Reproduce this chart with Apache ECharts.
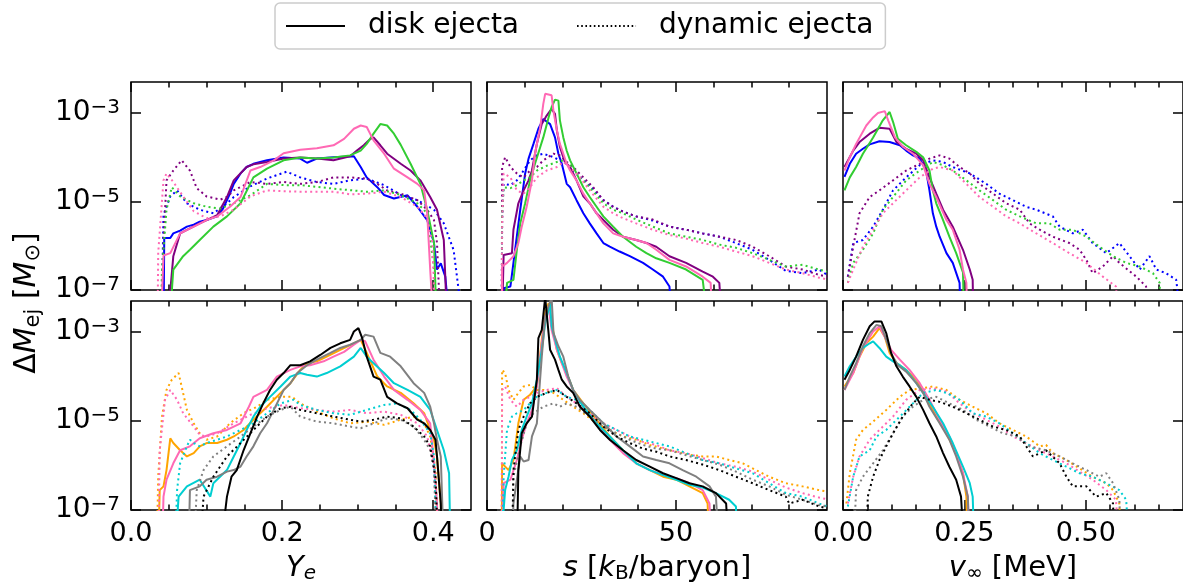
<!DOCTYPE html>
<html><head><meta charset="utf-8">
<script src="https://cdn.jsdelivr.net/npm/echarts@6/dist/echarts.min.js"></script>
<style>html,body{margin:0;padding:0;background:#fff}#c{width:1183px;height:586px}</style>
</head><body><div id="c"></div><script>
// ---------- tick values ----------
const yeMajorTicks = [0, 0.2, 0.4];
const yeMinorTicks = [0.05, 0.1, 0.15, 0.25, 0.3, 0.35];
const sMajorTicks = [0, 50];
const sMinorTicks = [10, 20, 30, 40, 60, 70, 80];
const vMajorTicks = [0, 0.25, 0.5];
const vMinorTicks = [0.05, 0.1, 0.15, 0.2, 0.3, 0.35, 0.4, 0.45, 0.55, 0.6, 0.65];
const yTicks = [1e-7, 1e-5, 1e-3];

// ---------- top row : Ye ----------
const yeTopBlueDisk = [[0.043,1e-8],[0.044,1.5e-6],[0.052,1.5e-6],[0.056,1.9e-6],[0.065,2.2e-6],[0.074,2.7e-6],[0.083,3.0e-6],[0.091,3.5e-6],[0.1,3.8e-6],[0.114,4.6e-6],[0.122,7e-6],[0.131,1.5e-5],[0.136,2.5e-5],[0.145,4.3e-5],[0.153,6e-5],[0.162,7.1e-5],[0.18,8.5e-5],[0.202,9.8e-5],[0.224,9.3e-5],[0.233,7.5e-5],[0.246,9.3e-5],[0.268,1.0e-4],[0.295,1.05e-4],[0.304,6e-5],[0.312,3.5e-5],[0.326,2.1e-5],[0.335,1.4e-5],[0.348,1.17e-5],[0.366,1.38e-5],[0.379,7.6e-6],[0.392,3.8e-6],[0.401,1.15e-6],[0.405,2.9e-7],[0.41,4e-7],[0.416,2e-7],[0.423,1e-8]];
const yeTopBlueDyn = [[0.04,1e-8],[0.043,5e-6],[0.052,1.3e-5],[0.061,1.78e-5],[0.074,9.1e-6],[0.091,6.5e-6],[0.109,5.4e-6],[0.127,9.1e-6],[0.136,1.26e-5],[0.158,2.2e-5],[0.18,3.3e-5],[0.206,4.7e-5],[0.224,3.5e-5],[0.246,2.75e-5],[0.268,2.5e-5],[0.29,3e-5],[0.312,3.3e-5],[0.335,2.34e-5],[0.357,1.4e-5],[0.379,1.07e-5],[0.401,6.5e-6],[0.414,3.2e-6],[0.427,8e-7],[0.441,1e-8]];
const yeTopPurpleDisk = [[0.047,1e-8],[0.056,5.8e-7],[0.065,1.9e-6],[0.091,3.2e-6],[0.114,4.9e-6],[0.127,1.26e-5],[0.136,3e-5],[0.153,6e-5],[0.162,6.9e-5],[0.18,7.8e-5],[0.202,9.3e-5],[0.224,9.8e-5],[0.246,9.3e-5],[0.268,8.5e-5],[0.29,1.05e-4],[0.299,1.41e-4],[0.308,1.86e-4],[0.317,2.6e-4],[0.321,2.8e-4],[0.33,1.86e-4],[0.339,1.2e-4],[0.357,7.1e-5],[0.37,5e-5],[0.383,3e-5],[0.396,1.26e-5],[0.405,6.5e-6],[0.414,1.35e-6],[0.419,1e-8]];
const yeTopPurpleDyn = [[0.04,1e-8],[0.043,1.15e-6],[0.047,3e-5],[0.056,5e-5],[0.067,8.5e-5],[0.078,5e-5],[0.087,2e-5],[0.1,1.3e-5],[0.118,1.1e-5],[0.127,1.26e-5],[0.136,1.78e-5],[0.158,2.75e-5],[0.18,2.5e-5],[0.202,2.75e-5],[0.224,2.5e-5],[0.246,2.75e-5],[0.268,3.5e-5],[0.29,3.5e-5],[0.312,3.3e-5],[0.326,2.5e-5],[0.339,1.78e-5],[0.357,1.5e-5],[0.379,1.07e-5],[0.392,6.5e-6],[0.401,3.8e-6],[0.405,1.15e-6],[0.41,1e-8]];
const yeTopGreenDisk = [[0.05,1e-8],[0.056,2.9e-7],[0.069,5.8e-7],[0.078,8.1e-7],[0.091,1.35e-6],[0.109,2.7e-6],[0.127,4.6e-6],[0.145,9.1e-6],[0.162,3.5e-5],[0.18,5.5e-5],[0.202,8.5e-5],[0.224,9.8e-5],[0.246,9.3e-5],[0.268,9.8e-5],[0.29,1.1e-4],[0.304,1.41e-4],[0.312,2.0e-4],[0.321,3.4e-4],[0.33,5.6e-4],[0.339,5.2e-4],[0.348,3.4e-4],[0.357,1.9e-4],[0.37,7.1e-5],[0.383,2.5e-5],[0.392,6.5e-6],[0.401,1.15e-6],[0.405,1e-8]];
const yeTopGreenDyn = [[0.039,1e-8],[0.041,2.9e-7],[0.047,6.5e-6],[0.054,2.1e-5],[0.065,1.3e-5],[0.083,9.1e-6],[0.1,7.6e-6],[0.118,6.9e-6],[0.136,9.1e-6],[0.158,1.38e-5],[0.18,2.5e-5],[0.202,2.34e-5],[0.224,2.34e-5],[0.246,2.14e-5],[0.268,1.95e-5],[0.29,1.8e-5],[0.312,1.66e-5],[0.335,1.78e-5],[0.357,1.4e-5],[0.379,9.1e-6],[0.392,5.4e-6],[0.401,2.9e-7],[0.405,1e-8]];
const yeTopPinkDisk = [[0.039,1e-8],[0.043,6e-7],[0.052,6.8e-7],[0.065,1.9e-6],[0.083,2.7e-6],[0.1,3.8e-6],[0.114,4.6e-6],[0.131,7.6e-6],[0.145,1.26e-5],[0.158,5e-5],[0.171,6e-5],[0.189,8.5e-5],[0.202,1.23e-4],[0.224,1.48e-4],[0.246,1.6e-4],[0.268,1.86e-4],[0.282,2.6e-4],[0.295,4.4e-4],[0.304,5.2e-4],[0.312,4.8e-4],[0.321,2.4e-4],[0.335,1.2e-4],[0.348,5.5e-5],[0.366,3.5e-5],[0.379,2.5e-5],[0.388,1.78e-5],[0.392,5.4e-6],[0.396,2.9e-7],[0.401,1e-8]];
const yeTopPinkDyn = [[0.035,1e-8],[0.036,6.8e-7],[0.043,3e-5],[0.047,4.3e-5],[0.056,2.75e-5],[0.069,1.3e-5],[0.083,6e-6],[0.1,4.2e-6],[0.118,4.6e-6],[0.136,6.5e-6],[0.158,1.3e-5],[0.18,1.78e-5],[0.202,1.7e-5],[0.224,1.66e-5],[0.246,1.66e-5],[0.268,1.66e-5],[0.29,1.45e-5],[0.312,1.5e-5],[0.335,1.66e-5],[0.357,1.26e-5],[0.379,7.6e-6],[0.392,4.2e-6],[0.399,1.15e-6],[0.403,1e-8]];

// ---------- top row : s ----------
const sTopBlueDisk = [[3.9,1e-8],[4.4,1.1e-7],[6.2,1.2e-7],[7,4.1e-7],[8.8,6.5e-6],[10.1,4.3e-5],[11,9.3e-5],[12.3,2e-4],[13.6,4.4e-4],[14.9,7.3e-4],[16.7,5.6e-4],[18,2.8e-4],[18.9,1.2e-4],[19.8,7.1e-5],[21.1,2.5e-5],[22,2.1e-5],[23.7,1.07e-5],[25.5,5.4e-6],[27.2,3.2e-6],[29,1.9e-6],[30.8,1.15e-6],[32.5,9.5e-7],[35.1,7.4e-7],[37.8,5.8e-7],[41.3,4.1e-7],[43.9,2.9e-7],[46.6,2e-7],[48.3,1.2e-7],[49.2,1e-8]];
const sTopBlueDyn = [[3.9,1e-8],[4,3.9e-6],[4.4,2.5e-5],[6.2,2.34e-5],[7.9,3e-5],[9.7,5e-5],[11.4,8.5e-5],[13.2,1.1e-4],[14.9,1.2e-4],[17.6,1e-4],[19.3,8.5e-5],[21.1,7.1e-5],[22.8,5e-5],[25.5,3e-5],[28.1,1.9e-5],[30.8,1.07e-5],[33.4,7.6e-6],[36,5.9e-6],[39.5,4.6e-6],[43.9,3.7e-6],[48.3,2.7e-6],[52.7,2.3e-6],[57.1,1.9e-6],[61.5,1.6e-6],[65.9,1.15e-6],[70.3,8.1e-7],[74.7,4.8e-7],[79.1,2.7e-7],[83.5,2.4e-7],[87.9,2.9e-7],[90,2.2e-7]];
const sTopPurpleDisk = [[3.9,1e-8],[4.4,6.2e-7],[6.6,6.8e-7],[7,2.3e-6],[8.3,9.1e-6],[9.7,1.78e-5],[11,3e-5],[11.9,5e-5],[13.2,2e-4],[14.5,5.6e-4],[15.8,8.7e-4],[17.1,1.23e-3],[18,9.5e-4],[18.5,4e-4],[19.3,1.7e-4],[20.6,7.8e-5],[22,6e-5],[23.7,3e-5],[25.5,1.3e-5],[27.2,9.1e-6],[29,5.4e-6],[30.8,3.8e-6],[33.4,2.3e-6],[36,1.6e-6],[39.5,1.35e-6],[42.2,1.15e-6],[44.8,9.5e-7],[48.3,5.8e-7],[52.7,4.1e-7],[57.1,2.6e-7],[59.8,2e-7],[61.5,1.45e-7],[62.4,1e-8]];
const sTopPurpleDyn = [[3.9,1e-8],[4,6e-5],[4.8,1e-4],[6.2,6e-5],[7.9,4.3e-5],[9.7,3.5e-5],[11.4,5e-5],[13.2,6e-5],[14.9,8.5e-5],[17.6,1.2e-4],[19.3,1.1e-4],[21.1,7.8e-5],[22.8,6e-5],[25.5,3.5e-5],[28.1,2.1e-5],[30.8,1.07e-5],[33.4,7.6e-6],[36,5.9e-6],[39.5,4.6e-6],[43.9,3.9e-6],[48.3,2.7e-6],[52.7,2.3e-6],[57.1,1.9e-6],[61.5,1.6e-6],[65.9,1.35e-6],[70.3,9.5e-7],[74.7,5.8e-7],[79.1,3.4e-7],[83.5,2.9e-7],[87.9,2.2e-7],[90,2e-7]];
const sTopGreenDisk = [[4.4,1e-8],[5.3,1.45e-7],[7,1.7e-7],[7.9,8.1e-7],[8.8,3.2e-6],[10.1,9.1e-6],[11.4,3e-5],[12.7,7.1e-5],[14.1,1.7e-4],[14.9,2.8e-4],[16.3,7.9e-4],[17.1,1.35e-3],[18,2.0e-3],[18.9,1.9e-3],[19.3,6.8e-4],[20.2,2.8e-4],[21.1,1.4e-4],[22,8.5e-5],[23.7,4.3e-5],[25.5,2.1e-5],[27.2,1.26e-5],[29,7.6e-6],[30.8,4.6e-6],[33.4,2.7e-6],[36,1.6e-6],[39.5,9.5e-7],[42.2,6.8e-7],[44.8,5.2e-7],[48.3,4.1e-7],[52.7,2.9e-7],[57.1,1.7e-7],[58.8,1e-8]];
const sTopGreenDyn = [[3.9,1e-8],[4,4.6e-6],[4.4,2.1e-5],[6.2,2e-5],[7.9,2.34e-5],[9.7,3e-5],[11.4,3.5e-5],[13.2,5e-5],[15.8,6.4e-5],[18.5,7.8e-5],[20.2,8.5e-5],[22,6.5e-5],[24.6,3.5e-5],[27.2,2.1e-5],[30.8,9.1e-6],[33.4,6.5e-6],[36,5.4e-6],[39.5,3.9e-6],[43.9,2.7e-6],[48.3,1.9e-6],[52.7,1.6e-6],[57.1,1.35e-6],[61.5,1.06e-6],[65.9,9e-7],[70.3,6.8e-7],[74.7,4.8e-7],[79.1,3.4e-7],[83.5,3.7e-7],[87.9,2.9e-7],[90,2.6e-7]];
const sTopPinkDisk = [[3.9,1e-8],[4,3.4e-7],[5.3,4.1e-7],[7,5.8e-7],[8.3,1.15e-6],[9.2,2.7e-6],[10.5,7.6e-6],[11.9,3e-5],[12.7,1.2e-4],[14.1,4.8e-4],[14.9,1.6e-3],[15.4,2.7e-3],[17.1,2.5e-3],[17.6,1.1e-3],[18.5,4e-4],[19.3,2e-4],[20.2,1.2e-4],[21.1,7.1e-5],[22,5e-5],[23.7,3e-5],[25.5,1.5e-5],[27.2,9.1e-6],[29,5.4e-6],[30.8,3.2e-6],[33.4,1.9e-6],[36,1.6e-6],[39.5,1.35e-6],[42.2,1.15e-6],[44.8,8.1e-7],[48.3,4.8e-7],[52.7,3.4e-7],[57.1,2e-7],[59.2,1.45e-7],[59.8,1e-8]];
const sTopPinkDyn = [[3.9,1e-8],[4,2.7e-6],[4.4,4.3e-5],[6.2,3.5e-5],[7.9,1.78e-5],[9.7,1.5e-5],[11.4,2.1e-5],[13.2,3.5e-5],[15.8,5e-5],[18.5,6e-5],[20.2,7.8e-5],[22,6e-5],[24.6,3.5e-5],[27.2,1.78e-5],[30.8,7.6e-6],[33.4,5.4e-6],[36,4.2e-6],[39.5,3.2e-6],[43.9,2.3e-6],[48.3,1.75e-6],[52.7,1.45e-6],[57.1,1.15e-6],[61.5,9.5e-7],[65.9,7.4e-7],[70.3,5.8e-7],[74.7,4.1e-7],[79.1,2.9e-7],[83.5,2.4e-7],[87.9,1.9e-7],[90,1.75e-7]];

// ---------- top row : v_inf ----------
const vTopBlueDisk = [[0.003,3.6e-5],[0.014,7.1e-5],[0.027,1.2e-4],[0.041,1.55e-4],[0.055,1.95e-4],[0.075,2.3e-4],[0.096,2.2e-4],[0.117,1.86e-4],[0.13,1.41e-4],[0.144,1.1e-4],[0.158,9.3e-5],[0.171,5e-5],[0.178,1.78e-5],[0.185,5.4e-6],[0.192,2.7e-6],[0.199,1.6e-6],[0.213,6.8e-7],[0.226,4.1e-7],[0.24,1.45e-7],[0.243,1e-8]];
const vTopBlueDyn = [[0.01,2e-7],[0.021,1.15e-6],[0.041,1.35e-6],[0.062,2.7e-6],[0.082,6.5e-6],[0.103,1.78e-5],[0.13,3.5e-5],[0.158,6.6e-5],[0.185,8.5e-5],[0.206,7.8e-5],[0.226,6e-5],[0.261,4.3e-5],[0.295,2.5e-5],[0.322,1.5e-5],[0.35,1.07e-5],[0.377,7.6e-6],[0.398,6.5e-6],[0.432,4.6e-6],[0.446,2.7e-6],[0.473,1.9e-6],[0.494,2.3e-6],[0.514,1.15e-6],[0.542,6.8e-7],[0.569,1.15e-6],[0.59,5.8e-7],[0.611,2.9e-7],[0.631,5.8e-7],[0.645,2.9e-7],[0.665,2.4e-7],[0.686,1.7e-7],[0.699,1e-8]];
const vTopPurpleDisk = [[0.003,6e-5],[0.021,1.41e-4],[0.034,2.2e-4],[0.055,3.4e-4],[0.075,4.6e-4],[0.096,4.4e-4],[0.11,2.2e-4],[0.13,1.55e-4],[0.151,1.2e-4],[0.165,8.5e-5],[0.178,3.5e-5],[0.192,1.5e-5],[0.206,6.5e-6],[0.226,2.7e-6],[0.247,8.1e-7],[0.261,2.9e-7],[0.267,1.7e-7],[0.269,1e-8]];
const vTopPurpleDyn = [[0.01,2e-7],[0.021,9.5e-7],[0.034,5.4e-6],[0.055,1.26e-5],[0.075,1.78e-5],[0.103,3e-5],[0.13,5e-5],[0.158,7.1e-5],[0.178,9.3e-5],[0.199,1.1e-4],[0.219,9.3e-5],[0.24,6e-5],[0.261,4.3e-5],[0.281,2.5e-5],[0.309,1.5e-5],[0.336,9.1e-6],[0.364,6.5e-6],[0.384,3.2e-6],[0.405,2.3e-6],[0.432,1.6e-6],[0.466,1.15e-6],[0.487,8.1e-7],[0.501,4.8e-7],[0.514,2.4e-7],[0.535,3.4e-7],[0.556,5.8e-7],[0.569,4.1e-7],[0.604,2e-7],[0.624,1.2e-7],[0.631,1e-8]];
const vTopGreenDisk = [[0.003,1.78e-5],[0.014,3.5e-5],[0.027,6e-5],[0.041,1.2e-4],[0.062,2.8e-4],[0.082,6.8e-4],[0.096,1.05e-3],[0.103,6.3e-4],[0.113,2.6e-4],[0.13,1.86e-4],[0.151,1.32e-4],[0.165,1.0e-4],[0.178,5e-5],[0.185,1.78e-5],[0.192,9.1e-6],[0.206,3.8e-6],[0.219,1.6e-6],[0.233,6.8e-7],[0.247,2.5e-7],[0.25,1e-8]];
const vTopGreenDyn = [[0.01,1.45e-7],[0.021,4.1e-7],[0.041,8.1e-7],[0.062,1.9e-6],[0.082,6.5e-6],[0.103,1.26e-5],[0.13,3e-5],[0.158,5e-5],[0.185,7.8e-5],[0.206,6.6e-5],[0.226,5e-5],[0.254,3e-5],[0.281,1.78e-5],[0.309,1.07e-5],[0.336,6.5e-6],[0.364,4.6e-6],[0.398,3.2e-6],[0.425,3.2e-6],[0.446,2.3e-6],[0.473,2.3e-6],[0.501,1.6e-6],[0.528,9.5e-7],[0.556,5.8e-7],[0.583,4.1e-7],[0.611,3.4e-7],[0.638,2.4e-7],[0.652,1.45e-7],[0.655,1e-8]];
const vTopPinkDisk = [[0.003,5e-5],[0.014,1e-4],[0.027,2e-4],[0.048,5.2e-4],[0.062,7.9e-4],[0.072,1.0e-3],[0.086,1.1e-3],[0.093,6.8e-4],[0.107,2.8e-4],[0.124,1.7e-4],[0.144,1.2e-4],[0.165,6.6e-5],[0.178,2.5e-5],[0.192,1.26e-5],[0.213,3.8e-6],[0.226,2.3e-6],[0.24,8.1e-7],[0.247,2.9e-7],[0.254,1.45e-7],[0.257,1e-8]];
const vTopPinkDyn = [[0.01,1.45e-7],[0.021,2.9e-7],[0.041,9.5e-7],[0.062,2.3e-6],[0.082,5.4e-6],[0.103,9.1e-6],[0.13,1.78e-5],[0.158,3.5e-5],[0.185,5.5e-5],[0.199,6e-5],[0.226,5e-5],[0.254,2.5e-5],[0.281,1.26e-5],[0.309,7.6e-6],[0.336,4.6e-6],[0.364,3.2e-6],[0.398,1.9e-6],[0.432,1.15e-6],[0.466,6.8e-7],[0.501,4.1e-7],[0.535,2e-7],[0.562,1.2e-7],[0.569,1e-8]];

// ---------- bottom row : Ye ----------
const yeBotOrangeDisk = [[0.036,1e-8],[0.038,2.8e-7],[0.043,3.4e-7],[0.047,7.9e-7],[0.052,4.1e-6],[0.056,3.2e-6],[0.065,2.2e-6],[0.074,1.6e-6],[0.083,1.9e-6],[0.091,2.7e-6],[0.1,3.2e-6],[0.114,3.2e-6],[0.127,3.8e-6],[0.136,4.5e-6],[0.149,6.3e-6],[0.162,1.07e-5],[0.18,2.1e-5],[0.198,4.3e-5],[0.211,7.1e-5],[0.224,1.41e-4],[0.233,2e-4],[0.246,2.2e-4],[0.259,2.8e-4],[0.277,4e-4],[0.295,5.6e-4],[0.304,6.7e-4],[0.312,3.4e-4],[0.326,1e-4],[0.339,6e-5],[0.357,4.3e-5],[0.374,2.5e-5],[0.388,1.5e-5],[0.396,6.3e-6],[0.401,3.8e-6],[0.405,1.6e-6],[0.41,1.4e-7],[0.412,1e-8]];
const yeBotOrangeDyn = [[0.034,1e-8],[0.036,5.6e-7],[0.041,1.26e-5],[0.047,5e-5],[0.054,8.5e-5],[0.063,1.2e-4],[0.067,6e-5],[0.074,1.78e-5],[0.083,8.9e-6],[0.091,5.3e-6],[0.1,3.8e-6],[0.114,4.5e-6],[0.131,8.9e-6],[0.149,1.5e-5],[0.167,2.1e-5],[0.18,3e-5],[0.198,3.5e-5],[0.213,3.5e-5],[0.224,2.5e-5],[0.246,1.63e-5],[0.268,1.15e-5],[0.29,8.9e-6],[0.312,9.7e-6],[0.335,8.2e-6],[0.357,1.07e-5],[0.374,1.26e-5],[0.388,8.9e-6],[0.396,4.5e-6],[0.403,7.9e-7],[0.407,1e-8]];
const yeBotPinkDisk = [[0.041,1e-8],[0.043,2e-7],[0.047,4.8e-7],[0.056,1.12e-6],[0.065,2.2e-6],[0.078,2.7e-6],[0.091,4.1e-6],[0.109,5.3e-6],[0.127,6.3e-6],[0.145,8.9e-6],[0.156,2.1e-5],[0.162,3.5e-5],[0.18,5e-5],[0.193,1e-4],[0.211,1.41e-4],[0.224,1.7e-4],[0.237,1.8e-4],[0.255,2.2e-4],[0.268,2.8e-4],[0.282,3.6e-4],[0.295,5.2e-4],[0.304,6.7e-4],[0.31,6.2e-4],[0.321,2.4e-4],[0.335,1e-4],[0.348,5e-5],[0.366,3e-5],[0.383,1.78e-5],[0.396,8.9e-6],[0.401,1.12e-6],[0.405,1.4e-7],[0.407,1e-8]];
const yeBotPinkDyn = [[0.036,1e-8],[0.038,2.2e-6],[0.045,3e-5],[0.052,5e-5],[0.061,3e-5],[0.069,1.5e-5],[0.083,7.5e-6],[0.091,4.9e-6],[0.1,4.5e-6],[0.114,5.3e-6],[0.136,8.9e-6],[0.158,1.38e-5],[0.18,1.94e-5],[0.202,2.3e-5],[0.224,1.94e-5],[0.246,1.78e-5],[0.268,1.63e-5],[0.29,1.78e-5],[0.312,1.5e-5],[0.335,1.63e-5],[0.357,1.38e-5],[0.379,8.9e-6],[0.392,4.5e-6],[0.401,9.4e-7],[0.405,1e-8]];
const yeBotCyanDisk = [[0.058,1e-8],[0.063,2e-7],[0.074,3.4e-7],[0.091,4.8e-7],[0.105,2e-7],[0.109,4e-7],[0.127,7.9e-7],[0.136,1.6e-6],[0.145,3.2e-6],[0.153,6.3e-6],[0.162,1.26e-5],[0.171,2.1e-5],[0.184,3.5e-5],[0.198,6e-5],[0.211,1e-4],[0.224,1.2e-4],[0.233,1.1e-4],[0.246,1e-4],[0.259,1.2e-4],[0.277,1.7e-4],[0.295,2.8e-4],[0.304,4.4e-4],[0.312,2.8e-4],[0.321,2e-4],[0.335,1.2e-4],[0.348,7.1e-5],[0.366,5e-5],[0.383,3.5e-5],[0.396,1.78e-5],[0.405,6.3e-6],[0.414,2.2e-6],[0.421,6.7e-7],[0.423,1e-8]];
const yeBotCyanDyn = [[0.058,1e-8],[0.061,2.8e-7],[0.065,1.12e-6],[0.074,2.7e-6],[0.078,3.8e-6],[0.083,3.2e-6],[0.091,2.7e-6],[0.1,3.2e-6],[0.114,3.8e-6],[0.127,4.5e-6],[0.145,6.3e-6],[0.162,8.9e-6],[0.18,1.5e-5],[0.198,2.5e-5],[0.215,3e-5],[0.224,2.3e-5],[0.246,1.78e-5],[0.268,1.5e-5],[0.29,1.38e-5],[0.312,1.78e-5],[0.335,2.3e-5],[0.352,2.5e-5],[0.37,1.78e-5],[0.383,1.07e-5],[0.396,5.3e-6],[0.401,1.6e-6],[0.405,1e-8]];
const yeBotGrayDisk = [[0.076,1e-8],[0.078,2.8e-7],[0.091,3.4e-7],[0.1,4.8e-7],[0.114,5.6e-7],[0.127,7.3e-7],[0.136,7.9e-7],[0.145,9.5e-7],[0.153,1.6e-6],[0.162,2.7e-6],[0.171,5.3e-6],[0.18,8.9e-6],[0.189,1.78e-5],[0.202,5e-5],[0.211,7.1e-5],[0.22,1.2e-4],[0.233,1.8e-4],[0.246,2.4e-4],[0.264,3.4e-4],[0.277,4.4e-4],[0.29,5.2e-4],[0.304,6.7e-4],[0.31,8.7e-4],[0.321,7.9e-4],[0.33,3.4e-4],[0.343,2.8e-4],[0.357,1.7e-4],[0.374,7.1e-5],[0.388,4.3e-5],[0.396,2.1e-5],[0.401,8.9e-6],[0.405,3.8e-6],[0.41,1.6e-6],[0.412,1.4e-7],[0.414,1e-8]];
const yeBotGrayDyn = [[0.083,1e-8],[0.087,2.8e-7],[0.096,7.9e-7],[0.109,1.6e-6],[0.127,2.7e-6],[0.145,4.5e-6],[0.162,7.5e-6],[0.18,1.26e-5],[0.198,1.78e-5],[0.211,2.1e-5],[0.224,1.26e-5],[0.246,9.7e-6],[0.268,8.9e-6],[0.29,7.5e-6],[0.304,6.9e-6],[0.321,8.9e-6],[0.339,1.15e-5],[0.357,1.07e-5],[0.374,7.5e-6],[0.388,3.8e-6],[0.396,2.2e-6],[0.401,7.9e-7],[0.405,1e-8]];
const yeBotBlackDisk = [[0.118,1e-8],[0.127,2e-7],[0.133,5.6e-7],[0.14,7.9e-7],[0.149,2.2e-6],[0.158,5.3e-6],[0.167,1.26e-5],[0.175,2.5e-5],[0.184,5e-5],[0.193,8.5e-5],[0.202,1.2e-4],[0.211,1.8e-4],[0.224,1.8e-4],[0.237,2.2e-4],[0.251,3.1e-4],[0.264,4.4e-4],[0.277,5.6e-4],[0.29,6.7e-4],[0.295,1.03e-3],[0.301,1.23e-3],[0.306,7.3e-4],[0.312,2.8e-4],[0.321,1e-4],[0.33,8.5e-5],[0.339,3.5e-5],[0.352,2.5e-5],[0.366,1.94e-5],[0.379,1.07e-5],[0.388,8.9e-6],[0.396,6.3e-6],[0.403,3.8e-6],[0.405,1.6e-6],[0.41,1.4e-7],[0.412,1e-8]];
const yeBotBlackDyn = [[0.091,1e-8],[0.096,2e-7],[0.109,5.6e-7],[0.127,1.6e-6],[0.145,3.2e-6],[0.162,6.3e-6],[0.18,1.26e-5],[0.198,1.94e-5],[0.211,2.1e-5],[0.224,1.78e-5],[0.246,1.5e-5],[0.268,1.26e-5],[0.29,1.07e-5],[0.304,9.7e-6],[0.321,1.07e-5],[0.339,1.26e-5],[0.357,1.15e-5],[0.374,7.5e-6],[0.388,4.5e-6],[0.396,2.7e-6],[0.403,5.6e-7],[0.407,1e-8]];

// ---------- bottom row : s ----------
const sBotOrangeDisk = [[3.9,1e-8],[4,1.12e-6],[4.4,1.12e-6],[5.7,7.9e-7],[7,1.33e-6],[8.3,8.9e-6],[9.7,3e-5],[11.4,3.9e-5],[13.2,6e-5],[14.5,6.7e-4],[15.4,2.7e-3],[16.3,4.5e-3],[17.1,1.6e-3],[18.5,4e-4],[19.8,2e-4],[21.1,1.2e-4],[22.8,5e-5],[25.5,2.5e-5],[29,1.07e-5],[32.5,4.5e-6],[36,2.2e-6],[39.5,1.12e-6],[43.1,7.9e-7],[46.6,5.6e-7],[50.1,4.8e-7],[53.6,3.4e-7],[57.1,2.4e-7],[58.4,1.4e-7],[58.9,1e-8]];
const sBotOrangeDyn = [[3.9,1e-8],[4,1.41e-4],[4.8,1.2e-4],[5.7,5e-5],[7,3e-5],[8.3,4.3e-5],[9.7,6e-5],[11.4,6.5e-5],[13.2,5e-5],[14.9,5e-5],[17.6,4.3e-5],[20.2,3e-5],[22.8,2.1e-5],[25.5,1.5e-5],[29,8.9e-6],[32.5,6.3e-6],[36,4.5e-6],[39.5,3.8e-6],[43.1,2.9e-6],[46.6,2.4e-6],[50.1,2.05e-6],[53.6,1.74e-6],[57.1,1.6e-6],[60.6,1.6e-6],[64.1,1.33e-6],[67.7,1.12e-6],[71.2,7.9e-7],[74.7,5.6e-7],[79.1,4e-7],[83.5,3.4e-7],[87.9,2.8e-7],[90,2.6e-7]];
const sBotPinkDisk = [[3.9,1e-8],[4.4,4e-7],[6.2,4.8e-7],[7.9,1.33e-6],[9.2,3.8e-6],[10.5,8.9e-6],[11.9,1.78e-5],[13.2,6e-5],[14.5,5.6e-4],[15.4,2.2e-3],[16.3,3.8e-3],[17.1,1.12e-3],[18.5,4e-4],[19.8,2e-4],[21.1,1e-4],[22.8,5e-5],[25.5,2.1e-5],[29,8.9e-6],[32.5,3.8e-6],[36,1.9e-6],[39.5,1.12e-6],[43.1,7.9e-7],[46.6,6.1e-7],[50.1,5.2e-7],[53.6,4e-7],[57.1,2.8e-7],[58.9,1.4e-7],[59.3,1e-8]];
const sBotPinkDyn = [[3.9,1e-8],[4,5e-5],[4.8,6e-5],[6.2,3e-5],[7.9,2.1e-5],[9.7,3e-5],[11.4,3.5e-5],[13.2,4.3e-5],[15.8,5e-5],[18.5,5.5e-5],[21.1,3.5e-5],[23.7,2.5e-5],[27.2,1.5e-5],[30.8,8.9e-6],[34.3,6.3e-6],[37.8,4.5e-6],[41.3,3.4e-6],[44.8,2.9e-6],[48.3,2.2e-6],[52.7,1.9e-6],[57.1,1.47e-6],[61.5,1.12e-6],[65.9,9.4e-7],[70.3,7.3e-7],[74.7,4.8e-7],[79.1,3.2e-7],[83.5,2.4e-7],[87.9,1.9e-7],[90,1.75e-7]];
const sBotCyanDisk = [[4.2,1e-8],[4.4,1e-7],[4.8,2.8e-7],[5.7,5.6e-7],[6.6,1.33e-6],[7.9,2.2e-6],[9.2,6.3e-6],[10.5,1.26e-5],[11.9,2.5e-5],[13.2,8.5e-5],[14.5,4e-4],[15.4,1.6e-3],[16.3,3.2e-3],[16.7,4.5e-3],[17.1,1.35e-3],[18.5,4.8e-4],[19.3,2.8e-4],[21.1,1.2e-4],[22.8,5e-5],[25.5,2.1e-5],[29,8.9e-6],[32.5,4.5e-6],[36,2.2e-6],[39.5,1.12e-6],[43.1,7.9e-7],[46.6,6.1e-7],[50.1,4.8e-7],[53.6,3.7e-7],[57.1,3.2e-7],[60.6,2.4e-7],[64.1,1.7e-7],[65.9,1.2e-7],[66.3,1e-8]];
const sBotCyanDyn = [[4,1e-8],[4.4,5.6e-7],[5.3,6.3e-6],[6.6,1.26e-5],[7.9,1.5e-5],[9.7,1.78e-5],[11.4,2.5e-5],[13.2,3.5e-5],[15.8,4.3e-5],[18.5,5e-5],[21.1,3.5e-5],[23.7,3e-5],[27.2,1.78e-5],[30.8,8.9e-6],[34.3,6.3e-6],[37.8,4.5e-6],[41.3,3.8e-6],[44.8,3.2e-6],[48.3,2.7e-6],[52.7,1.9e-6],[57.1,1.33e-6],[61.5,1.12e-6],[65.9,8.6e-7],[70.3,6.7e-7],[74.7,4e-7],[79.1,2.4e-7],[83.5,2e-7],[87.9,1.4e-7],[90,1.2e-7]];
const sBotGrayDisk = [[6.6,1e-8],[7,1.4e-7],[8.8,1.6e-6],[9.7,1.23e-6],[11,1.33e-6],[11.9,4.5e-6],[13.2,8.9e-6],[14.5,2.8e-4],[15.4,2.2e-3],[16.3,3.8e-3],[17.1,6e-3],[17.6,9.5e-4],[18.9,4.8e-4],[20.2,2.8e-4],[21.5,1e-4],[22.8,5e-5],[24.6,3e-5],[27.2,1.78e-5],[30.8,8.9e-6],[34.3,4.5e-6],[37.8,2.7e-6],[41.3,1.6e-6],[44.8,1.33e-6],[48.3,1.12e-6],[51.8,7.9e-7],[55.4,5.6e-7],[58.9,3.4e-7],[60.6,2e-7],[61.5,1e-8]];
const sBotGrayDyn = [[6.6,1e-8],[7,5.6e-7],[8.8,2.7e-6],[10.5,8.9e-6],[12.3,1.5e-5],[14.9,2.1e-5],[17.6,2.5e-5],[19.3,2.1e-5],[21.1,2.5e-5],[23.7,2.1e-5],[27.2,1.26e-5],[30.8,7.5e-6],[34.3,5.3e-6],[37.8,3.8e-6],[41.3,2.9e-6],[44.8,2.4e-6],[48.3,2.2e-6],[52.7,1.7e-6],[57.1,1.33e-6],[61.5,1.05e-6],[65.9,7.3e-7],[70.3,4.8e-7],[74.7,3.4e-7],[79.1,2.2e-7],[83.5,1.7e-7],[87.9,1.3e-7],[90,1.2e-7]];
const sBotBlackDisk = [[7.9,1e-8],[8.3,7.9e-7],[9.2,5.3e-6],[10.5,8.9e-6],[11.9,1.26e-5],[13.2,8.5e-5],[13.6,7.3e-4],[14.5,1.12e-3],[15.4,6e-3],[15.8,6e-3],[16.3,9.5e-4],[16.7,4e-4],[18,2.4e-4],[18.9,1.41e-4],[19.8,8.5e-5],[21.1,6e-5],[22.8,4.3e-5],[24.6,2.1e-5],[27.2,1.26e-5],[29.9,6.3e-6],[32.5,3.8e-6],[36,2.2e-6],[39.5,1.33e-6],[43.1,9.4e-7],[46.6,6.7e-7],[50.1,5.2e-7],[53.6,4e-7],[57.1,3.4e-7],[60.6,2.4e-7],[63.3,1.4e-7],[64.1,1e-8]];
const sBotBlackDyn = [[6.6,1e-8],[7,7.9e-7],[8.3,6.3e-6],[9.7,1.26e-5],[11.4,2.5e-5],[13.2,3.5e-5],[15.8,4.3e-5],[18.5,5e-5],[21.1,3.5e-5],[23.7,2.5e-5],[27.2,1.5e-5],[30.8,7.5e-6],[34.3,4.5e-6],[37.8,3.2e-6],[41.3,2.4e-6],[44.8,2.05e-6],[48.3,1.6e-6],[52.7,1.33e-6],[57.1,1.05e-6],[61.5,7.9e-7],[65.9,5.6e-7],[70.3,4e-7],[74.7,2.8e-7],[79.1,2e-7],[80,1.4e-7],[83.5,1.7e-7],[87.9,1.2e-7],[90,1.1e-7]];

// ---------- bottom row : v_inf ----------
const vBotOrangeDisk = [[0.003,6e-5],[0.021,1.2e-4],[0.034,2.8e-4],[0.048,5.6e-4],[0.062,7.9e-4],[0.075,1.23e-3],[0.086,7.9e-4],[0.096,3.4e-4],[0.11,2e-4],[0.13,1.41e-4],[0.151,8.5e-5],[0.171,3.5e-5],[0.192,1.26e-5],[0.213,5.3e-6],[0.233,1.9e-6],[0.247,6.7e-7],[0.254,2e-7],[0.257,1e-8]];
const vBotOrangeDyn = [[0.007,1.4e-7],[0.014,6.7e-7],[0.027,3.8e-6],[0.041,6.3e-6],[0.062,9.7e-6],[0.089,1.78e-5],[0.117,3.5e-5],[0.137,5e-5],[0.165,5.5e-5],[0.185,6e-5],[0.213,5e-5],[0.24,3e-5],[0.267,2.1e-5],[0.295,1.5e-5],[0.322,8.9e-6],[0.35,6.3e-6],[0.377,4.5e-6],[0.405,2.7e-6],[0.418,2.9e-6],[0.432,1.9e-6],[0.46,1.33e-6],[0.487,8.6e-7],[0.514,5.6e-7],[0.542,4e-7],[0.556,2.8e-7],[0.569,1.4e-7],[0.573,1e-8]];
const vBotPinkDisk = [[0.003,5e-5],[0.021,1.2e-4],[0.041,4.4e-4],[0.062,1.03e-3],[0.075,1.35e-3],[0.089,6.7e-4],[0.099,4e-4],[0.117,2.4e-4],[0.137,1.41e-4],[0.158,7.1e-5],[0.178,3e-5],[0.199,1.07e-5],[0.219,4.5e-6],[0.233,1.9e-6],[0.247,6.7e-7],[0.257,2e-7],[0.261,1e-8]];
const vBotPinkDyn = [[0.01,1.4e-7],[0.021,5.6e-7],[0.034,1.6e-6],[0.055,3.8e-6],[0.075,6.3e-6],[0.103,1.26e-5],[0.13,3e-5],[0.158,5e-5],[0.185,5.5e-5],[0.213,4.6e-5],[0.24,2.5e-5],[0.267,1.5e-5],[0.295,1.07e-5],[0.322,7.5e-6],[0.35,4.5e-6],[0.377,3.2e-6],[0.405,2.2e-6],[0.432,1.6e-6],[0.46,1.12e-6],[0.487,7.3e-7],[0.514,4.8e-7],[0.542,2.8e-7],[0.562,1.7e-7],[0.569,1e-8]];
const vBotCyanDisk = [[0.003,1e-4],[0.014,1.7e-4],[0.027,2.8e-4],[0.041,4.4e-4],[0.055,5.6e-4],[0.062,6.2e-4],[0.075,4.4e-4],[0.089,2.8e-4],[0.103,2.2e-4],[0.117,1.8e-4],[0.13,1.41e-4],[0.151,7.1e-5],[0.165,4.3e-5],[0.185,2.1e-5],[0.206,8.9e-6],[0.226,3.2e-6],[0.247,9.4e-7],[0.261,4e-7],[0.267,2e-7],[0.271,1e-8]];
const vBotCyanDyn = [[0.01,1.2e-7],[0.021,5.6e-7],[0.034,1.6e-6],[0.055,2.2e-6],[0.069,4.5e-6],[0.089,6.3e-6],[0.117,1.26e-5],[0.144,2.5e-5],[0.165,4.3e-5],[0.192,5e-5],[0.213,4.3e-5],[0.24,3e-5],[0.267,1.5e-5],[0.295,1.26e-5],[0.322,8.9e-6],[0.35,5.3e-6],[0.377,3.2e-6],[0.405,1.9e-6],[0.432,1.33e-6],[0.46,9.4e-7],[0.487,6.7e-7],[0.514,5.6e-7],[0.542,4e-7],[0.569,2.8e-7],[0.583,1.7e-7],[0.59,1e-8]];
const vBotGrayDisk = [[0.003,5e-5],[0.014,1e-4],[0.027,2e-4],[0.041,4.8e-4],[0.055,9.5e-4],[0.069,1.45e-3],[0.079,1.35e-3],[0.089,6.7e-4],[0.099,3.3e-4],[0.113,1.8e-4],[0.13,1.29e-4],[0.151,7.1e-5],[0.165,4.3e-5],[0.178,2.1e-5],[0.199,8.9e-6],[0.219,3.8e-6],[0.233,1.6e-6],[0.247,5.6e-7],[0.257,2e-7],[0.261,1e-8]];
const vBotGrayDyn = [[0.021,1e-8],[0.027,2.8e-7],[0.041,5.6e-7],[0.062,1.12e-6],[0.082,2.2e-6],[0.103,5.3e-6],[0.123,1.26e-5],[0.144,2.1e-5],[0.165,3e-5],[0.192,3.5e-5],[0.219,2.5e-5],[0.247,1.78e-5],[0.274,1.07e-5],[0.302,7.5e-6],[0.329,5.3e-6],[0.357,4.5e-6],[0.384,2.7e-6],[0.418,2.2e-6],[0.446,1.6e-6],[0.473,1.12e-6],[0.501,7.9e-7],[0.528,5.6e-7],[0.542,6.7e-7],[0.556,4e-7],[0.569,1.7e-7],[0.573,1e-8]];
const vBotBlackDisk = [[0.003,8.5e-5],[0.014,1.41e-4],[0.027,2.8e-4],[0.041,6.7e-4],[0.055,1.35e-3],[0.065,1.74e-3],[0.079,1.74e-3],[0.089,9.5e-4],[0.099,3.4e-4],[0.11,1.7e-4],[0.123,1e-4],[0.137,6e-5],[0.151,3.5e-5],[0.165,1.78e-5],[0.178,8.9e-6],[0.192,4.5e-6],[0.206,1.9e-6],[0.219,9.4e-7],[0.233,4.8e-7],[0.243,2e-7],[0.25,1e-8]];
const vBotBlackDyn = [[0.048,1e-8],[0.051,2e-7],[0.062,5.6e-7],[0.075,1.33e-6],[0.089,2.7e-6],[0.103,5.3e-6],[0.123,1.26e-5],[0.144,2.5e-5],[0.158,3.5e-5],[0.178,3e-5],[0.199,2.7e-5],[0.226,2.1e-5],[0.254,1.5e-5],[0.281,1.07e-5],[0.309,7.5e-6],[0.336,6.3e-6],[0.364,4.5e-6],[0.391,1.6e-6],[0.418,2.2e-6],[0.446,1.12e-6],[0.46,5.6e-7],[0.473,3.4e-7],[0.501,3.4e-7],[0.521,2e-7],[0.542,2.4e-7],[0.556,1.4e-7],[0.559,1e-8]];

// ---------- build ----------
const FONT = 'DejaVu Sans';
const COLORS = {blue:'#0000ff', purple:'#800080', green:'#32cd32', pink:'#ff69b4', orange:'#ffa500', cyan:'#00ced1', gray:'#808080', black:'#000000'};
const panelSeries = [
  [['blue',yeTopBlueDisk,yeTopBlueDyn],['purple',yeTopPurpleDisk,yeTopPurpleDyn],['green',yeTopGreenDisk,yeTopGreenDyn],['pink',yeTopPinkDisk,yeTopPinkDyn]],
  [['blue',sTopBlueDisk,sTopBlueDyn],['purple',sTopPurpleDisk,sTopPurpleDyn],['green',sTopGreenDisk,sTopGreenDyn],['pink',sTopPinkDisk,sTopPinkDyn]],
  [['blue',vTopBlueDisk,vTopBlueDyn],['purple',vTopPurpleDisk,vTopPurpleDyn],['green',vTopGreenDisk,vTopGreenDyn],['pink',vTopPinkDisk,vTopPinkDyn]],
  [['orange',yeBotOrangeDisk,yeBotOrangeDyn],['pink',yeBotPinkDisk,yeBotPinkDyn],['cyan',yeBotCyanDisk,yeBotCyanDyn],['gray',yeBotGrayDisk,yeBotGrayDyn],['black',yeBotBlackDisk,yeBotBlackDyn]],
  [['orange',sBotOrangeDisk,sBotOrangeDyn],['pink',sBotPinkDisk,sBotPinkDyn],['cyan',sBotCyanDisk,sBotCyanDyn],['gray',sBotGrayDisk,sBotGrayDyn],['black',sBotBlackDisk,sBotBlackDyn]],
  [['orange',vBotOrangeDisk,vBotOrangeDyn],['pink',vBotPinkDisk,vBotPinkDyn],['cyan',vBotCyanDisk,vBotCyanDyn],['gray',vBotGrayDisk,vBotGrayDyn],['black',vBotBlackDisk,vBotBlackDyn]]
];

const nameRich = {
  i: {fontStyle:'italic', fontSize:29, fontFamily:FONT, color:'#000', lineHeight:32},
  sub: {fontSize:20, fontFamily:FONT, color:'#000', lineHeight:14, verticalAlign:'bottom'},
  isub: {fontStyle:'italic', fontSize:20, fontFamily:FONT, color:'#000', lineHeight:14, verticalAlign:'bottom'}
};
const xCols = [
  {min:0, max:0.45, major:yeMajorTicks, minor:yeMinorTicks, fmt:v=>v.toFixed(1), name:'{i|Y}{isub|e}'},
  {min:0, max:90, major:sMajorTicks, minor:sMinorTicks, fmt:v=>String(Math.round(v)), name:'{i|s} [{i|k}{sub|B}/baryon]'},
  {min:0, max:0.7, major:vMajorTicks, minor:vMinorTicks, fmt:v=>v.toFixed(2), name:'{i|v}{sub|∞} [MeV]'}
];
const LEFTS = [131, 487, 843], TOPS = [82, 301], HEIGHTS = [208, 209], W = 340;

const grids = [], xAxes = [], yAxes = [], series = [];
const tick = (vals, len) => ({show:true, inside:true, length:len, customValues:vals, lineStyle:{color:'#000', width:1.5}});
for (let i = 0; i < 6; i++) {
  const row = Math.floor(i/3), col = i % 3, X = xCols[col];
  grids.push({left:LEFTS[col], top:TOPS[row], width:W, height:HEIGHTS[row], show:true, borderColor:'#000', borderWidth:1.5, backgroundColor:'transparent', containLabel:false});
  const base = {gridIndex:i, type:'value', min:X.min, max:X.max, axisLine:{show:false, onZero:false}, splitLine:{show:false}};
  xAxes.push(Object.assign({}, base, {position:'bottom', axisTick:tick(X.major, 10),
    axisLabel:{show:row===1, customValues:X.major, formatter:X.fmt, fontSize:27, fontFamily:FONT, color:'#000', margin:10},
    name: row===1 ? X.name : '', nameLocation:'middle', nameGap:42,
    nameTextStyle:{fontSize:29, fontFamily:FONT, color:'#000', lineHeight:32, rich:nameRich}}));
  xAxes.push(Object.assign({}, base, {position:'bottom', axisTick:tick(X.minor, 5.5), axisLabel:{show:false}}));
  xAxes.push(Object.assign({}, base, {position:'top', axisTick:tick(X.major, 10), axisLabel:{show:false}}));
  xAxes.push(Object.assign({}, base, {position:'top', axisTick:tick(X.minor, 5.5), axisLabel:{show:false}}));
  const ybase = {gridIndex:i, type:'log', logBase:10, min:1e-7, max:5e-3, axisLine:{show:false, onZero:false}, splitLine:{show:false}};
  yAxes.push(Object.assign({}, ybase, {position:'left', axisTick:tick(yTicks, 10),
    axisLabel:{show:col===0, customValues:yTicks, margin:11, color:'#000',
      formatter: v => '{b|10}{s|\u2212' + Math.abs(Math.round(Math.log10(v))) + '}',
      rich:{b:{fontSize:28, fontFamily:FONT, color:'#000', lineHeight:30}, s:{fontSize:20, fontFamily:FONT, color:'#000', lineHeight:17, verticalAlign:'top'}}}}));
  yAxes.push(Object.assign({}, ybase, {position:'right', axisTick:tick(yTicks, 10), axisLabel:{show:false}}));

  panelSeries[i].forEach(([c, disk, dyn]) => {
    series.push({type:'line', xAxisIndex:4*i, yAxisIndex:2*i, data:disk, showSymbol:false, symbol:'none', silent:true,
      lineStyle:{color:COLORS[c], width:2}, itemStyle:{color:COLORS[c]}, clip:true});
    series.push({type:'line', xAxisIndex:4*i, yAxisIndex:2*i, data:dyn, showSymbol:false, symbol:'none', silent:true,
      lineStyle:{color:COLORS[c], width:2, type:[2, 3.3], cap:'butt'}, itemStyle:{color:COLORS[c]}, clip:true});
  });
}
// legend entries
series.push({name:'disk ejecta', type:'line', xAxisIndex:0, yAxisIndex:0, data:[], symbol:'none', lineStyle:{color:'#000', width:2}, itemStyle:{color:'#000'}});
series.push({name:'dynamic ejecta', type:'line', xAxisIndex:0, yAxisIndex:0, data:[], symbol:'none', lineStyle:{color:'#000', width:1.6, type:[1.6,2.6]}, itemStyle:{color:'#000'}});

const option = {
  animation:false,
  backgroundColor:'#fff',
  grid:grids, xAxis:xAxes, yAxis:yAxes, series:series,
  legend:{left:275, top:3, itemWidth:59, itemHeight:14, itemGap:57, padding:[9,12,9,10],
    borderColor:'#cccccc', borderWidth:1.5, borderRadius:5, selectedMode:false,
    itemStyle:{opacity:0, borderWidth:0},
    textStyle:{fontSize:28, fontFamily:FONT, color:'#000', padding:[0,0,0,18]},
    data:['disk ejecta','dynamic ejecta']},
  graphic:[{type:'text', x:27, y:303, rotation:Math.PI/2, silent:true,
    style:{text:'{n|\u0394}{i|M}{sub|ej} {n|[}{i|M}{sub|\u2299}{n|]}', align:'center', verticalAlign:'middle', fill:'#000',
      fontSize:30, fontFamily:FONT,
      rich:{n:{fontSize:30, fontFamily:FONT, fill:'#000', lineHeight:34},
            i:{fontSize:30, fontFamily:FONT, fontStyle:'italic', fill:'#000', lineHeight:34},
            sub:{fontSize:21, fontFamily:FONT, fill:'#000', lineHeight:16, verticalAlign:'bottom'}}}}]
};
const chart = echarts.init(document.getElementById('c'), null, {renderer:'canvas'});
chart.setOption(option);
</script></body></html>
